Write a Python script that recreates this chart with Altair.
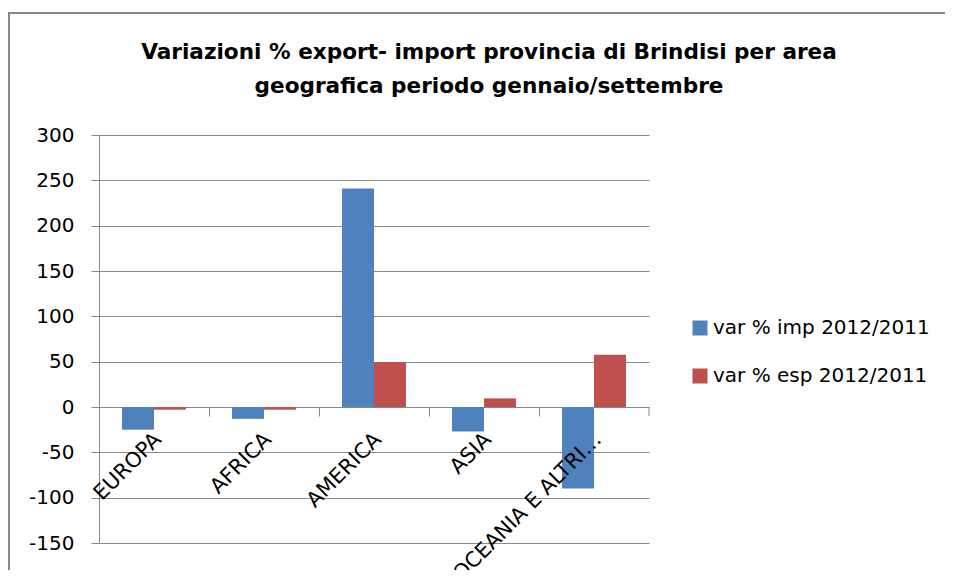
import altair as alt
import pandas as pd

categories = ["EUROPA", "AFRICA", "AMERICA", "ASIA", "OCEANIA E ALTRI…"]
series = ["var % imp 2012/2011", "var % esp 2012/2011"]
imp_values = [-25, -13, 241, -27, -90]
esp_values = [-3, -3, 49.5, 9.5, 57.5]
y_ticks = [-150, -100, -50, 0, 50, 100, 150, 200, 250, 300]
title_lines = [
    "Variazioni %  export- import  provincia di  Brindisi   per  area",
    "geografica  periodo gennaio/settembre",
]
colors = ["#4F81BD", "#C0504D"]

rows = []
for c, v in zip(categories, imp_values):
    rows.append({"area": c, "serie": series[0], "valore": v})
for c, v in zip(categories, esp_values):
    rows.append({"area": c, "serie": series[1], "valore": v})
df = pd.DataFrame(rows)
labels_df = pd.DataFrame({"area": categories, "zero": [0] * len(categories)})
one = pd.DataFrame({"k": [0]})

W, H = 550, 408
FONT = "DejaVu Sans"
GRAY = "#888888"

x_scale = alt.Scale(domain=categories, paddingInner=0, paddingOuter=0)
y_scale = alt.Scale(domain=[-150, 300], nice=False, zero=False)

bars = alt.Chart(df).mark_bar().encode(
    x=alt.X(
        "area:N",
        scale=x_scale,
        sort=categories,
        axis=alt.Axis(
            title=None, labels=False, bandPosition=0, tickSize=9,
            tickColor=GRAY, domainColor=GRAY, offset=-136, grid=False,
        ),
    ),
    xOffset=alt.XOffset(
        "serie:N", sort=series,
        scale=alt.Scale(domain=series, paddingInner=0, paddingOuter=0.72),
    ),
    y=alt.Y(
        "valore:Q",
        scale=y_scale,
        axis=alt.Axis(
            title=None, values=y_ticks, grid=True, gridColor=GRAY,
            domainColor=GRAY, tickColor=GRAY, tickSize=8, labelPadding=17,
            labelFontSize=20, labelFont=FONT, labelColor="#000000",
            labelExpr="replace(datum.label, '\u2212', '-')",
        ),
    ),
    color=alt.Color(
        "serie:N",
        scale=alt.Scale(domain=series, range=colors),
        legend=alt.Legend(
            title=None, orient="none", legendX=591, legendY=183,
            symbolType="square", symbolSize=225, symbolStrokeWidth=0,
            labelFontSize=20, labelFont=FONT, labelColor="#000000",
            rowPadding=28, labelOffset=3, padding=0, labelLimit=0,
        ),
    ),
)

xlabels = alt.Chart(labels_df).mark_text(
    angle=315, align="right", baseline="alphabetic", dx=-18, dy=30,
    fontSize=21, font=FONT, color="#000000",
).encode(
    x=alt.X("area:N", scale=x_scale, sort=categories),
    y=alt.Y("zero:Q", scale=y_scale),
    text="area:N",
)

end_tick = alt.Chart(one).mark_rule(color=GRAY, y2Offset=9).encode(
    x=alt.value(W), y=alt.datum(0), y2=alt.datum(0)
)

frame_left = alt.Chart(one).mark_rule(color=GRAY, strokeWidth=2).encode(
    x=alt.value(-90), y=alt.value(-122), y2=alt.value(460)
)
frame_top = alt.Chart(one).mark_rule(color=GRAY, strokeWidth=2).encode(
    x=alt.value(-91), x2=alt.value(846), y=alt.value(-122)
)

chart = alt.layer(frame_left, frame_top, bars, end_tick, xlabels).properties(
    width=W,
    height=H,
    autosize=alt.AutoSizeParams(type="none"),
    padding={"left": 91, "top": 127, "right": 296, "bottom": 27},
    title=alt.TitleParams(
        text=title_lines, fontSize=21.6, fontWeight="bold", font=FONT,
        anchor="middle", dx=115, dy=107, baseline="alphabetic",
        lineHeight=34, color="#000000",
    ),
    background="white",
).configure_view(stroke=None)

chart.save("out.html", embed_options={"renderer": "svg", "actions": False})
